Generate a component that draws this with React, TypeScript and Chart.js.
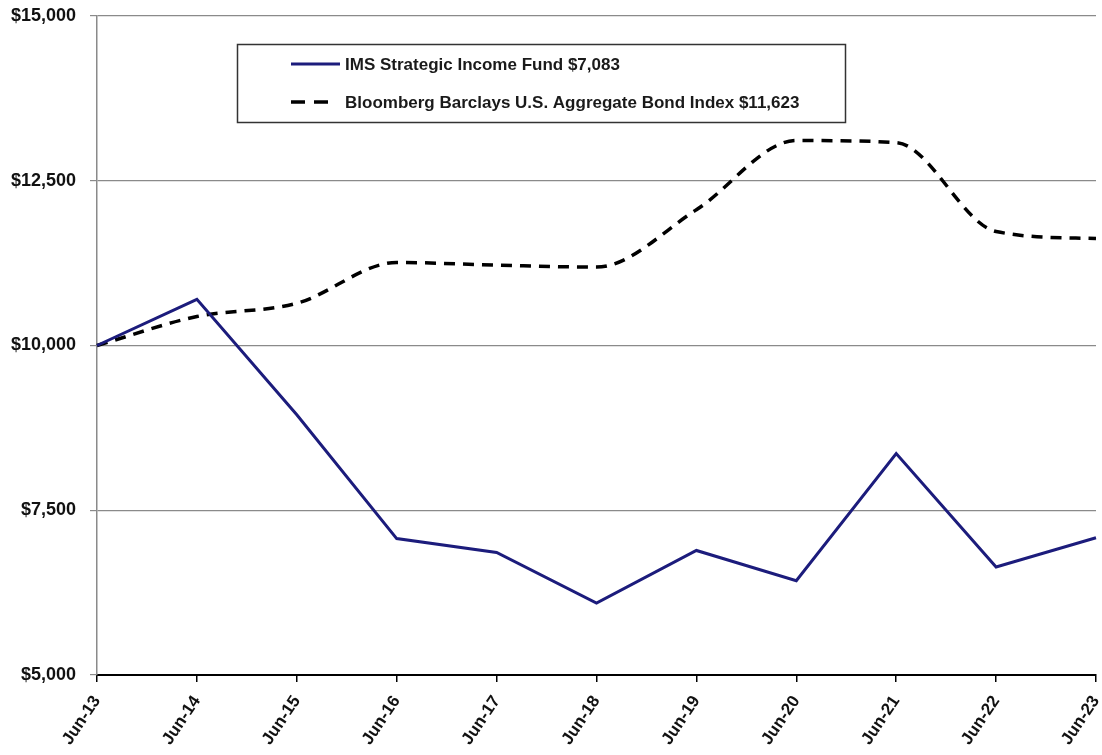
import React, { useEffect, useRef } from "react";
import { Chart, registerables } from "chart.js";

Chart.register(...registerables);

const categories = ["Jun-13", "Jun-14", "Jun-15", "Jun-16", "Jun-17", "Jun-18", "Jun-19", "Jun-20", "Jun-21", "Jun-22", "Jun-23"];
const fundValues = [10000, 10700, 8950, 7070, 6860, 6090, 6890, 6430, 8360, 6640, 7083];
const indexValues = [10000, 10440, 10640, 11260, 11220, 11190, 12060, 13110, 13080, 11730, 11623];
const yTickValues = [5000, 7500, 10000, 12500, 15000];
const fundLabel = "IMS Strategic Income Fund $7,083";
const indexLabel = "Bloomberg Barclays U.S. Aggregate Bond Index $11,623";

const boxLegend = {
  id: "boxLegend",
  afterDatasetsDraw(chart: any) {
    const ctx = chart.ctx;
    const ds = chart.data.datasets;
    ctx.save();
    ctx.fillStyle = "#ffffff";
    ctx.fillRect(237, 44, 608, 78);
    ctx.strokeStyle = "#333333";
    ctx.lineWidth = 1.5;
    ctx.strokeRect(237.5, 44.5, 608, 78);
    const rows = [64, 102];
    ds.forEach((d: any, i: number) => {
      const y = rows[i];
      ctx.beginPath();
      ctx.strokeStyle = d.borderColor;
      ctx.lineWidth = d.borderWidth;
      ctx.setLineDash(i === 0 ? [] : [14, 9]);
      ctx.moveTo(291, y);
      ctx.lineTo(i === 0 ? 340 : 328, y);
      ctx.stroke();
      ctx.setLineDash([]);
      ctx.fillStyle = "#1a1a1a";
      ctx.font = 'bold 17px "Liberation Sans", Arial, sans-serif';
      ctx.textBaseline = "middle";
      ctx.textAlign = "left";
      ctx.fillText(d.label, 345, y + 1);
    });
    ctx.restore();
  },
};

export default function App() {
  const ref = useRef<HTMLCanvasElement | null>(null);
  useEffect(() => {
    if (!ref.current) return;
    const chart = new Chart(ref.current, {
      type: "line",
      data: {
        labels: categories,
        datasets: [
          {
            label: fundLabel,
            data: fundValues,
            borderColor: "#1c1c7c",
            borderWidth: 3,
            pointRadius: 0,
            tension: 0,
            fill: false,
          },
          {
            label: indexLabel,
            data: indexValues,
            borderColor: "#000000",
            borderWidth: 3.5,
            borderDash: [11, 8],
            pointRadius: 0,
            cubicInterpolationMode: "monotone",
            fill: false,
          },
        ],
      },
      options: {
        responsive: false,
        animation: false,
        layout: { padding: { left: 0, right: 6, top: 16, bottom: 0 } },
        plugins: { legend: { display: false }, tooltip: { enabled: false } },
        scales: {
          x: {
            type: "category",
            offset: false,
            grid: { display: true, drawOnChartArea: false, drawTicks: true, tickLength: 7, color: "#000000", lineWidth: 1.5 },
            border: { display: true, color: "#000000", width: 2 },
            ticks: {
              autoSkip: false,
              minRotation: 56,
              maxRotation: 56,
              padding: 10,
              color: "#111111",
              font: { family: '"Liberation Sans", Arial, sans-serif', size: 17, weight: "bold" },
            },
            afterFit(scale: any) {
              scale.height = 80;
              scale.paddingLeft = 0;
              scale.paddingRight = 0;
            },
          },
          y: {
            min: 5000,
            max: 15000,
            afterBuildTicks(scale: any) {
              scale.ticks = yTickValues.map((v) => ({ value: v }));
            },
            grid: { color: "#8a8a8a", lineWidth: 1.2, tickLength: 7, drawTicks: true },
            border: { display: true, color: "#8a8a8a", width: 1.5 },
            ticks: {
              padding: 14,
              color: "#111111",
              font: { family: '"Liberation Sans", Arial, sans-serif', size: 18, weight: "bold" },
              callback: (v: any) => "$" + Number(v).toLocaleString("en-US"),
            },
            afterFit(scale: any) {
              scale.width = 97;
              scale.paddingTop = 0;
              scale.paddingBottom = 0;
            },
          },
        },
      },
      plugins: [boxLegend],
    });
    return () => chart.destroy();
  }, []);
  return (
    <div style={{ position: "fixed", left: 0, top: 0, width: 1102, height: 755, background: "#ffffff" }}>
      <canvas ref={ref} width={1102} height={755} style={{ width: 1102, height: 755, display: "block" }} />
    </div>
  );
}
